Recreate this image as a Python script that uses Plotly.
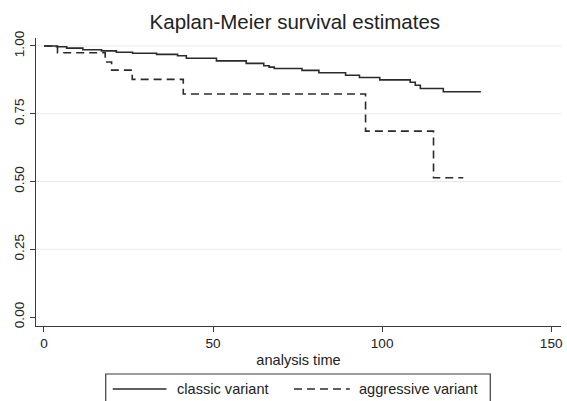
import plotly.graph_objects as go

# ---- data ----
classic_t = [0, 3.7, 6.7, 11.5, 17.0, 21.4, 26.2, 33.3, 39.5, 42.1, 51.0, 59.8,
             65.0, 66.6, 68.1, 76.3, 81.3, 89.2, 93.3, 99.3, 108.3, 109.8, 111.3,
             118.1, 129.2]
classic_s = [1.000, 0.997, 0.992, 0.986, 0.982, 0.977, 0.973, 0.969, 0.964, 0.955,
             0.945, 0.936, 0.927, 0.922, 0.917, 0.910, 0.901, 0.892, 0.884, 0.875,
             0.866, 0.855, 0.843, 0.831, 0.831]

aggr_t = [0, 4.0, 18.1, 20.0, 26.1, 41.2, 95.1, 115.2, 124.0]
aggr_s = [1.000, 0.975, 0.941, 0.911, 0.877, 0.823, 0.686, 0.514, 0.514]

x_ticks = [0, 50, 100, 150]
y_ticks = [0.00, 0.25, 0.50, 0.75, 1.00]
y_ticklabels = ["0.00", "0.25", "0.50", "0.75", "1.00"]
grid_vals = [0.25, 0.50, 0.75, 1.00]

series_names = ["classic variant", "aggressive variant"]

FONT = "Liberation Sans, Arial, Helvetica, sans-serif"
LINE_COL = "#2b2b2b"
AXIS_COL = "#3a3a3a"

fig = go.Figure()
fig.add_trace(go.Scatter(x=classic_t, y=classic_s, mode="lines", line_shape="hv",
                         name=series_names[0],
                         line=dict(color=LINE_COL, width=1.6), showlegend=False))
fig.add_trace(go.Scatter(x=aggr_t, y=aggr_s, mode="lines", line_shape="hv",
                         name=series_names[1],
                         line=dict(color=LINE_COL, width=1.6, dash="8px,5px"),
                         showlegend=False))

# gridlines (no gridline at 0)
for g in grid_vals:
    fig.add_shape(type="line", xref="paper", yref="y", x0=0, x1=1, y0=g, y1=g,
                  line=dict(color="#e8e8e8", width=1), layer="below")

# manual legend (paper coords; plot area px 36..563 x, 38..326 y)
def px_x(px):
    return (px - 36) / 527.0

def px_y(py):
    return (326 - py) / 288.0

fig.add_shape(type="rect", xref="paper", yref="paper",
              x0=px_x(106), x1=px_x(492), y0=px_y(374), y1=px_y(405),
              line=dict(color=AXIS_COL, width=1.2), fillcolor="white")
fig.add_shape(type="line", xref="paper", yref="paper",
              x0=px_x(113), x1=px_x(167), y0=px_y(389), y1=px_y(389),
              line=dict(color=LINE_COL, width=1.6))
fig.add_shape(type="line", xref="paper", yref="paper",
              x0=px_x(295), x1=px_x(351), y0=px_y(389), y1=px_y(389),
              line=dict(color=LINE_COL, width=1.6, dash="8px,5px"))
fig.add_annotation(xref="paper", yref="paper", x=px_x(176), y=px_y(389),
                   text=series_names[0], showarrow=False, xanchor="left",
                   yanchor="middle", font=dict(family=FONT, size=14.6, color="#222"))
fig.add_annotation(xref="paper", yref="paper", x=px_x(358), y=px_y(389),
                   text=series_names[1], showarrow=False, xanchor="left",
                   yanchor="middle", font=dict(family=FONT, size=14.6, color="#222"))

fig.update_layout(
    width=567, height=401,
    margin=dict(l=36, r=4, t=38, b=75),
    paper_bgcolor="white", plot_bgcolor="white",
    font=dict(family=FONT, color="#222"),
    title=dict(text="Kaplan-Meier survival estimates", x=0.52, xanchor="center",
               y=1 - 22 / 401, yanchor="middle",
               font=dict(family=FONT, size=20.5, color="#222")),
    xaxis=dict(range=[-2.36, 152.9], tickvals=x_ticks, showgrid=False, zeroline=False,
               showline=True, linecolor=AXIS_COL, linewidth=1.2,
               ticks="outside", ticklen=5, tickcolor=AXIS_COL, tickwidth=1.2,
               tickfont=dict(family=FONT, size=13.6, color="#222"),
               title=dict(text="analysis time", standoff=4,
                          font=dict(family=FONT, size=14.6, color="#222"))),
    yaxis=dict(range=[-0.0332, 1.0295], tickvals=y_ticks, ticktext=y_ticklabels,
               showgrid=False, zeroline=False, showline=True, linecolor=AXIS_COL,
               linewidth=1.2, ticks="outside", ticklen=5, tickcolor=AXIS_COL,
               tickwidth=1.2, tickangle=-90,
               tickfont=dict(family=FONT, size=13.6, color="#222")),
    showlegend=False,
)

fig.write_html("out.html")
